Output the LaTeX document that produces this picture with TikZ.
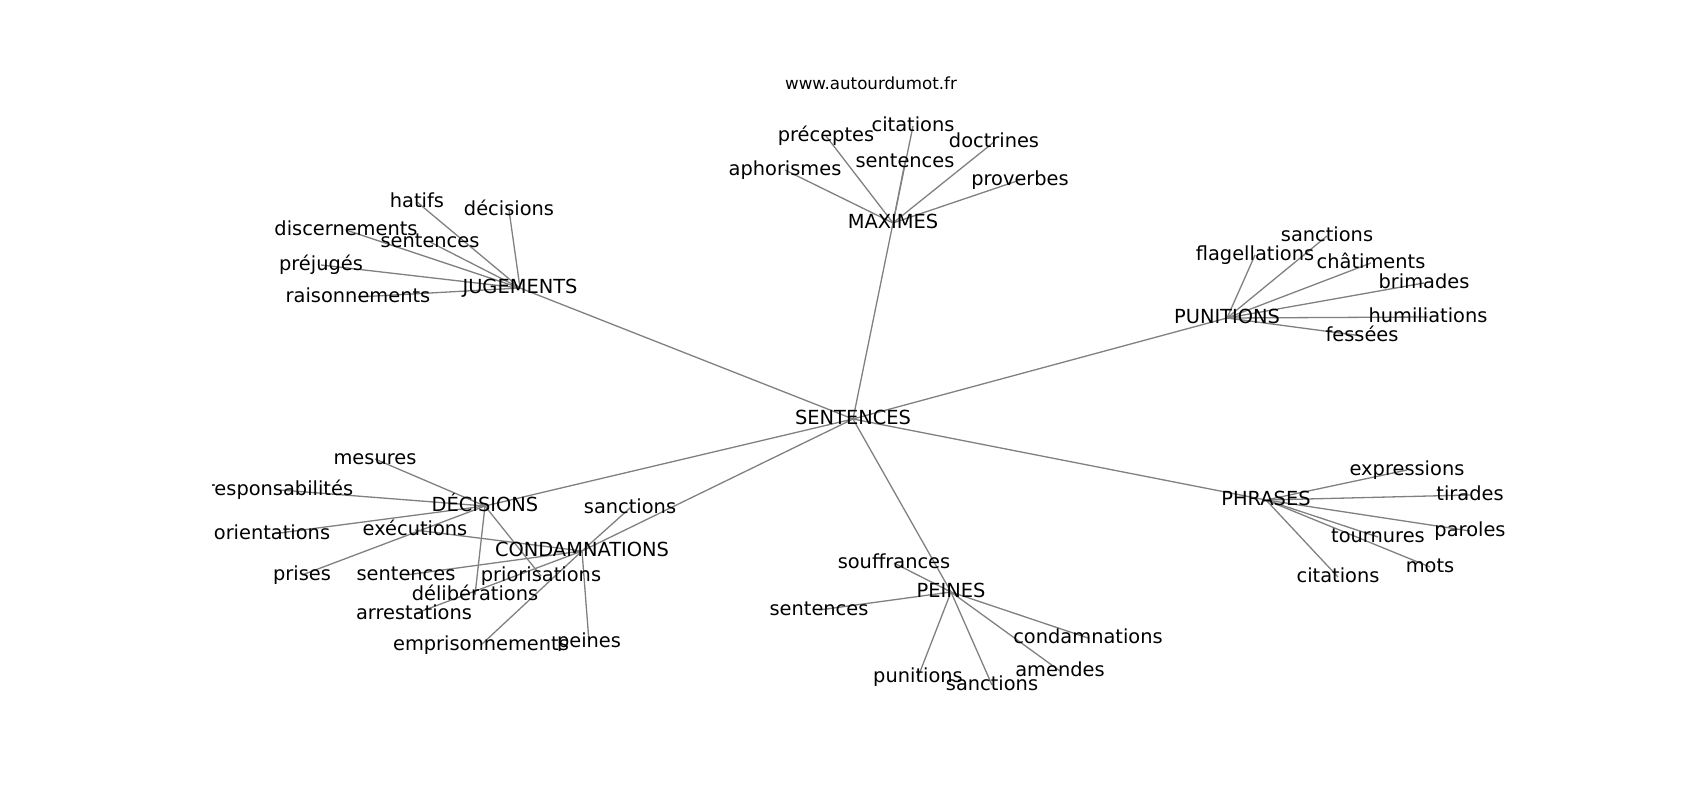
\documentclass[tikz,border=0pt]{standalone}
\usepackage{fontspec}
\setmainfont{DejaVu Sans}
\usetikzlibrary{backgrounds}
\begin{document}
\begin{tikzpicture}[x=1pt,y=-1pt,
  lbl/.style={inner sep=0pt, font=\fontsize{19.4}{23}\selectfont, text height=14.7pt, text depth=4.7pt, anchor=center},
  ttl/.style={inner sep=0pt, font=\fontsize{16.7}{20}\selectfont, anchor=center},
  edge/.style={draw=black!50, line width=1.3pt}]
\useasboundingbox (0,0) rectangle (1700,800);
\node[ttl] (title) at (871,83) {www.autourdumot.fr};
\begin{scope}
\clip (212.5,96) rectangle (1530,712);
% hubs
\node[lbl] (S) at (853,419) {SENTENCES};
\node[lbl] (MAX) at (893,223) {MAXIMES};
\node[lbl] (JUG) at (520,288) {JUGEMENTS};
\node[lbl] (PUN) at (1227,318) {PUNITIONS};
\node[lbl] (PHR) at (1266,500) {PHRASES};
\node[lbl] (PEI) at (951,592) {PEINES};
\node[lbl] (DEC) at (485,506) {DÉCISIONS};
\node[lbl] (CON) at (582,551) {CONDAMNATIONS};
% maximes
\node[lbl] (m1) at (826,136) {préceptes};
\node[lbl] (m2) at (913,126) {citations};
\node[lbl] (m3) at (994,142) {doctrines};
\node[lbl] (m4) at (905,162) {sentences};
\node[lbl] (m5) at (785,170) {aphorismes};
\node[lbl] (m6) at (1020,180) {proverbes};
% jugements
\node[lbl] (j1) at (417,202) {hatifs};
\node[lbl] (j2) at (509,210) {décisions};
\node[lbl] (j3) at (346,230) {discernements};
\node[lbl] (j4) at (430,242) {sentences};
\node[lbl] (j5) at (321,265) {préjugés};
\node[lbl] (j6) at (358,297) {raisonnements};
% punitions
\node[lbl] (p1) at (1327,236) {sanctions};
\node[lbl] (p2) at (1255,255) {flagellations};
\node[lbl] (p3) at (1371,263) {châtiments};
\node[lbl] (p4) at (1424,283) {brimades};
\node[lbl] (p5) at (1428,317) {humiliations};
\node[lbl] (p6) at (1362,336) {fessées};
% phrases
\node[lbl] (h1) at (1407,470) {expressions};
\node[lbl] (h2) at (1470,495) {tirades};
\node[lbl] (h3) at (1470,531) {paroles};
\node[lbl] (h4) at (1378,537) {tournures};
\node[lbl] (h5) at (1430,567) {mots};
\node[lbl] (h6) at (1338,577) {citations};
% peines
\node[lbl] (e1) at (894,563) {souffrances};
\node[lbl] (e2) at (819,610) {sentences};
\node[lbl] (e3) at (1088,638) {condamnations};
\node[lbl] (e4) at (1060,671) {amendes};
\node[lbl] (e5) at (918,677) {punitions};
\node[lbl] (e6) at (992,685) {sanctions};
% decisions
\node[lbl] (d1) at (375,459) {mesures};
\node[lbl] (d2) at (280,490) {responsabilités};
\node[lbl] (d3) at (272,534) {orientations};
\node[lbl] (d4) at (302,575) {prises};
\node[lbl] (d5) at (541,576) {priorisations};
\node[lbl] (d6) at (475,595) {délibérations};
% condamnations
\node[lbl] (c1) at (415,530) {exécutions};
\node[lbl] (c2) at (630,508) {sanctions};
\node[lbl] (c3) at (406,575) {sentences};
\node[lbl] (c4) at (414,614) {arrestations};
\node[lbl] (c5) at (481,645) {emprisonnements};
\node[lbl] (c6) at (589,642) {peines};
\end{scope}
\begin{scope}[on background layer]
\foreach \a/\b in {S/MAX,S/JUG,S/PUN,S/PHR,S/PEI,S/DEC,S/CON,
  MAX/m1,MAX/m2,MAX/m3,MAX/m4,MAX/m5,MAX/m6,
  JUG/j1,JUG/j2,JUG/j3,JUG/j4,JUG/j5,JUG/j6,
  PUN/p1,PUN/p2,PUN/p3,PUN/p4,PUN/p5,PUN/p6,
  PHR/h1,PHR/h2,PHR/h3,PHR/h4,PHR/h5,PHR/h6,
  PEI/e1,PEI/e2,PEI/e3,PEI/e4,PEI/e5,PEI/e6,
  DEC/d1,DEC/d2,DEC/d3,DEC/d4,DEC/d5,DEC/d6,
  CON/c1,CON/c2,CON/c3,CON/c4,CON/c5,CON/c6}
  \draw[edge] (\a.center) -- (\b.center);
\end{scope}
\end{tikzpicture}
\end{document}
